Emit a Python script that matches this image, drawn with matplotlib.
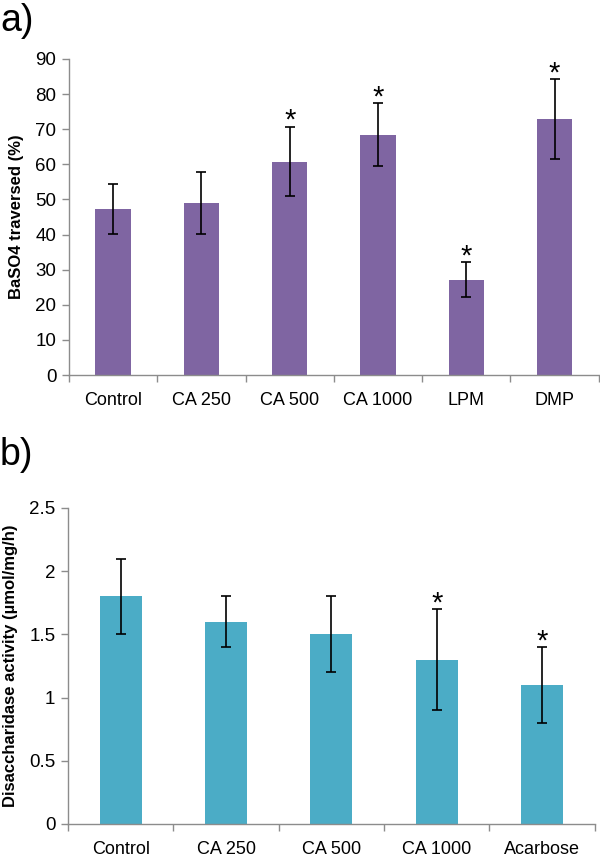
import numpy as np
import matplotlib.pyplot as plt

plt.rcParams['font.family'] = ['Liberation Sans', 'DejaVu Sans']

# panel a: BaSO4 transit
groups_a = ['Control', 'CA 250', 'CA 500', 'CA 1000', 'LPM', 'DMP']
means_a = [47.3, 49.0, 60.8, 68.4, 27.1, 72.8]
err_a = [7.0, 8.7, 9.9, 9.0, 5.0, 11.4]
sig_a = [False, False, True, True, True, True]

# panel b: disaccharidase activity
groups_b = ['Control', 'CA 250', 'CA 500', 'CA 1000', 'Acarbose']
means_b = [1.8, 1.6, 1.5, 1.3, 1.1]
err_b = [0.3, 0.2, 0.3, 0.4, 0.3]
sig_b = [False, False, False, True, True]

purple = '#7f65a2'
teal = '#4bacc6'
grey = '#8c8c8c'


def panel(ax, groups, means, errs, sig, color, ymax, ystep, ylabel, fmt):
    x = np.arange(len(groups))
    ax.bar(x, means, width=0.4, color=color, zorder=2)
    ax.errorbar(x, means, yerr=errs, fmt='none', ecolor='black',
                elinewidth=1.2, capsize=3.3, capthick=1.2, zorder=3)
    for xi, m, e, s in zip(x, means, errs, sig):
        if s:
            ax.annotate('*', (xi, m + e), xytext=(0, -1.5), textcoords='offset points',
                        ha='center', va='baseline', fontsize=21)
    ax.set_xlim(-0.5, len(groups) - 0.5)
    ax.set_ylim(0, ymax)
    ax.set_yticks(np.arange(0, ymax + ystep / 2, ystep))
    ax.yaxis.set_major_formatter(plt.FuncFormatter(fmt))
    ax.set_xticks(x)
    ax.set_xticklabels(groups)
    ax.set_xticks(np.arange(-0.5, len(groups)), minor=True)
    ax.tick_params(axis='x', which='major', length=0, pad=12, labelsize=13)
    ax.tick_params(axis='x', which='minor', length=5, color=grey, width=1)
    ax.tick_params(axis='y', length=5, color=grey, width=1, labelsize=13.5, pad=4)
    for s in ['top', 'right']:
        ax.spines[s].set_visible(False)
    for s in ['left', 'bottom']:
        ax.spines[s].set_color(grey)
        ax.spines[s].set_linewidth(1)
    ax.set_ylabel(ylabel, fontsize=12, fontweight='bold', labelpad=8)


fig = plt.figure(figsize=(6, 8.56), dpi=100)
ax1 = fig.add_axes([0.115, 0.5619, 0.883, 0.3692])
ax2 = fig.add_axes([0.1133, 0.0374, 0.878, 0.3692])

panel(ax1, groups_a, means_a, err_a, sig_a, purple, 90, 10,
      'BaSO4 traversed (%)', lambda v, p: '%d' % v)
panel(ax2, groups_b, means_b, err_b, sig_b, teal, 2.5, 0.5,
      'Disaccharidase activity (µmol/mg/h)', lambda v, p: '%g' % v)

fig.text(0.0, 0.997, 'a)', fontsize=27, va='top', ha='left')
fig.text(0.0, 0.489, 'b)', fontsize=27, va='top', ha='left')

fig.savefig('out.png', dpi=100)
